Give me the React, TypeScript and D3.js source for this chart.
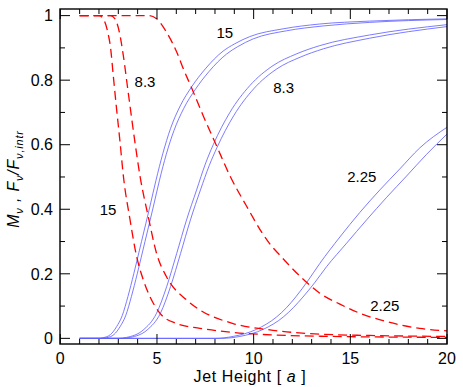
import React from "react";
import * as d3 from "d3";

const width = 463;
const height = 387;
const margin = { top: 9, right: 16, bottom: 43, left: 60 };

const xTicks = [0, 5, 10, 15, 20];
const xTickLabels = ["0", "5", "10", "15", "20"];
const yTicks = [0, 0.2, 0.4, 0.6, 0.8, 1];
const yTickLabels = ["0", "0.2", "0.4", "0.6", "0.8", "1"];

// red dashed curves (flux ratio)
const red15 = [
  [1, 1], [2.0, 1.0], [2.22, 0.99], [2.45, 0.95], [2.6, 0.9], [2.74, 0.814], [2.91, 0.711],
  [3.09, 0.608], [3.26, 0.504], [3.6, 0.37], [3.95, 0.253], [4.3, 0.18], [4.64, 0.129],
  [5.15, 0.078], [6.01, 0.046], [7.22, 0.031], [9, 0.018], [11.2, 0.01], [14, 0.006],
  [17, 0.004], [20, 0.003],
];
const red83 = [
  [1, 1], [2.6, 1.0], [2.83, 0.99], [3.05, 0.95], [3.26, 0.876], [3.51, 0.763], [3.86, 0.608],
  [4.12, 0.504], [4.55, 0.377], [4.98, 0.263], [5.5, 0.19], [6.53, 0.119], [7.22, 0.088],
  [8.94, 0.046], [11, 0.025], [13.4, 0.013], [16, 0.009], [20, 0.006],
];
const red225 = [
  [1, 1], [4.6, 1.0], [4.98, 0.99], [5.5, 0.948], [6.02, 0.887], [6.4, 0.83], [6.8, 0.775],
  [7.39, 0.69], [8.08, 0.597], [8.77, 0.504], [9.63, 0.41], [10.49, 0.322], [10.9, 0.288],
  [11.35, 0.258], [12.39, 0.193], [13.42, 0.14], [14.46, 0.106], [15.49, 0.078],
  [16.87, 0.052], [18.59, 0.031], [20, 0.023],
];

// blue solid pairs (magnification)
const blue15a = [
  [1, 0], [2.0, 0], [2.22, 0.002], [2.6, 0.012], [2.91, 0.036], [3.2, 0.07], [3.5, 0.13],
  [3.8, 0.2], [4.2, 0.3], [4.64, 0.41], [4.95, 0.49], [5.3, 0.572], [5.7, 0.65], [6.2, 0.72],
  [6.8, 0.78], [7.5, 0.835], [8.42, 0.89], [9.0, 0.912], [9.8, 0.935], [11.52, 0.959],
  [13.42, 0.974], [16, 0.983], [20, 0.99],
];
const blue15b = [
  [1, 0], [2.2, 0], [2.4, 0.002], [2.78, 0.012], [3.09, 0.036], [3.38, 0.07], [3.68, 0.13],
  [3.98, 0.2], [4.38, 0.3], [4.82, 0.41], [5.13, 0.49], [5.48, 0.57], [5.88, 0.644],
  [6.38, 0.712], [6.98, 0.771], [7.68, 0.826], [8.6, 0.881], [9.18, 0.904], [9.98, 0.928],
  [11.7, 0.953], [13.6, 0.968], [16, 0.979], [20, 0.988],
];
const blue83a = [
  [1, 0], [3.0, 0], [3.43, 0.003], [4.29, 0.026], [4.98, 0.078], [5.5, 0.16], [6.02, 0.263],
  [6.53, 0.367], [7.05, 0.46], [7.5, 0.54], [7.91, 0.6], [8.77, 0.7], [9.8, 0.783],
  [11.0, 0.845], [12.2, 0.881], [13.42, 0.907], [16, 0.94], [20, 0.972],
];
const blue83b = [
  [1, 0], [3.2, 0], [3.63, 0.003], [4.49, 0.026], [5.18, 0.078], [5.7, 0.16], [6.22, 0.263],
  [6.73, 0.367], [7.25, 0.46], [7.7, 0.535], [8.11, 0.592], [8.97, 0.69], [10.0, 0.773],
  [11.2, 0.835], [12.4, 0.871], [13.6, 0.897], [16, 0.93], [20, 0.966],
];
const blue225a = [
  [1, 0], [8.0, 0], [8.94, 0.006], [10.15, 0.028], [11.18, 0.066], [11.7, 0.095], [12.2, 0.13],
  [12.8, 0.178], [13.42, 0.232], [14.46, 0.314], [15.49, 0.39], [16.53, 0.46], [17.56, 0.525],
  [18.59, 0.59], [20, 0.654],
];
const blue225b = [
  [1, 0], [8.35, 0], [9.29, 0.006], [10.5, 0.028], [11.53, 0.066], [12.05, 0.095],
  [12.55, 0.128], [13.15, 0.172], [13.77, 0.222], [14.81, 0.295], [15.84, 0.367],
  [16.88, 0.437], [17.91, 0.503], [18.94, 0.57], [20, 0.633],
];

const redSeries = [red15, red83, red225];
const blueSeries = [blue15a, blue15b, blue83a, blue83b, blue225a, blue225b];

const blueLabels = [
  { text: "15", x: 8.51, y: 0.946 },
  { text: "8.3", x: 11.55, y: 0.776 },
  { text: "2.25", x: 15.59, y: 0.5 },
];
const redLabels = [
  { text: "8.3", x: 4.38, y: 0.797 },
  { text: "15", x: 2.47, y: 0.398 },
  { text: "2.25", x: 16.78, y: 0.1 },
];

const font = "'Liberation Sans', Arial, Helvetica, sans-serif";

export default function App() {
  const x0 = margin.left;
  const x1 = width - margin.right;
  const y0 = margin.top;
  const y1 = height - margin.bottom;

  const xScale = d3.scaleLinear().domain([0, 20]).range([x0 + 0.3, x1]);
  const yScale = d3.scaleLinear().domain([-0.0175, 1.0205]).range([y1, y0]);

  const lineGen = d3
    .line<number[]>()
    .x((d) => xScale(d[0]))
    .y((d) => yScale(d[1]))
    .curve(d3.curveMonotoneX);

  const xMinor = xScale.ticks(20);
  const yMinor = yScale.ticks(10);
  const majLen = 10;
  const minLen = 5;

  return (
    <svg
      width={width}
      height={height}
      style={{ position: "absolute", left: 0, top: 0, background: "#fff" }}
      fontFamily={font}
    >
      <defs>
        <clipPath id="plot">
          <rect x={x0} y={y0} width={x1 - x0} height={y1 - y0} />
        </clipPath>
      </defs>

      <g clipPath="url(#plot)">
        {blueSeries.map((s, i) => (
          <path key={"b" + i} d={lineGen(s) || ""} fill="none" stroke="#5a5aff" strokeWidth={0.8} />
        ))}
        {redSeries.map((s, i) => (
          <path
            key={"r" + i}
            d={lineGen(s) || ""}
            fill="none"
            stroke="#ff0000"
            strokeWidth={1.3}
            strokeDasharray="9,5"
          />
        ))}
      </g>

      {/* ticks on all four sides, pointing in */}
      <g stroke="#000" strokeWidth={1}>
        {xMinor.map((t) => {
          const len = xTicks.includes(t) ? majLen : minLen;
          const px = xScale(t);
          return (
            <g key={"xt" + t}>
              <line x1={px} x2={px} y1={y1} y2={y1 - len} />
              <line x1={px} x2={px} y1={y0} y2={y0 + len} />
            </g>
          );
        })}
        {yMinor.map((t) => {
          const major = yTicks.some((v) => Math.abs(v - t) < 1e-9);
          const len = major ? majLen : minLen;
          const py = yScale(t);
          return (
            <g key={"yt" + t}>
              <line x1={x0} x2={x0 + len} y1={py} y2={py} />
              <line x1={x1} x2={x1 - len} y1={py} y2={py} />
            </g>
          );
        })}
      </g>

      <rect x={x0} y={y0} width={x1 - x0} height={y1 - y0} fill="none" stroke="#000" strokeWidth={1.4} />

      {xTicks.map((t, i) => (
        <text key={"xl" + t} x={xScale(t)} y={364} textAnchor="middle" fontSize={16}>
          {xTickLabels[i]}
        </text>
      ))}
      {yTicks.map((t, i) => (
        <text key={"yl" + t} x={53} y={yScale(t)} dy="0.36em" textAnchor="end" fontSize={16}>
          {yTickLabels[i]}
        </text>
      ))}

      {blueLabels.map((l) => (
        <text key={"bl" + l.text} x={xScale(l.x)} y={yScale(l.y)} dy="0.36em" textAnchor="middle" fontSize={15}>
          {l.text}
        </text>
      ))}
      {redLabels.map((l) => (
        <text key={"rl" + l.text} x={xScale(l.x)} y={yScale(l.y)} dy="0.36em" textAnchor="middle" fontSize={15}>
          {l.text}
        </text>
      ))}

      <text x={250} y={382} textAnchor="middle" fontSize={16} letterSpacing={0.6}>
        Jet Height [ <tspan fontStyle="italic">a</tspan> ]
      </text>

      <text
        transform="translate(19,179) rotate(-90)"
        textAnchor="middle"
        fontSize={16}
        fontStyle="italic"
        letterSpacing={0.8}
      >
        M<tspan fontSize={11} dy={4}>ν</tspan>
        <tspan dy={-4}> ,  F</tspan>
        <tspan fontSize={11} dy={4}>ν</tspan>
        <tspan dy={-4}>/F</tspan>
        <tspan fontSize={11} dy={4}>ν,intr</tspan>
      </text>
    </svg>
  );
}
